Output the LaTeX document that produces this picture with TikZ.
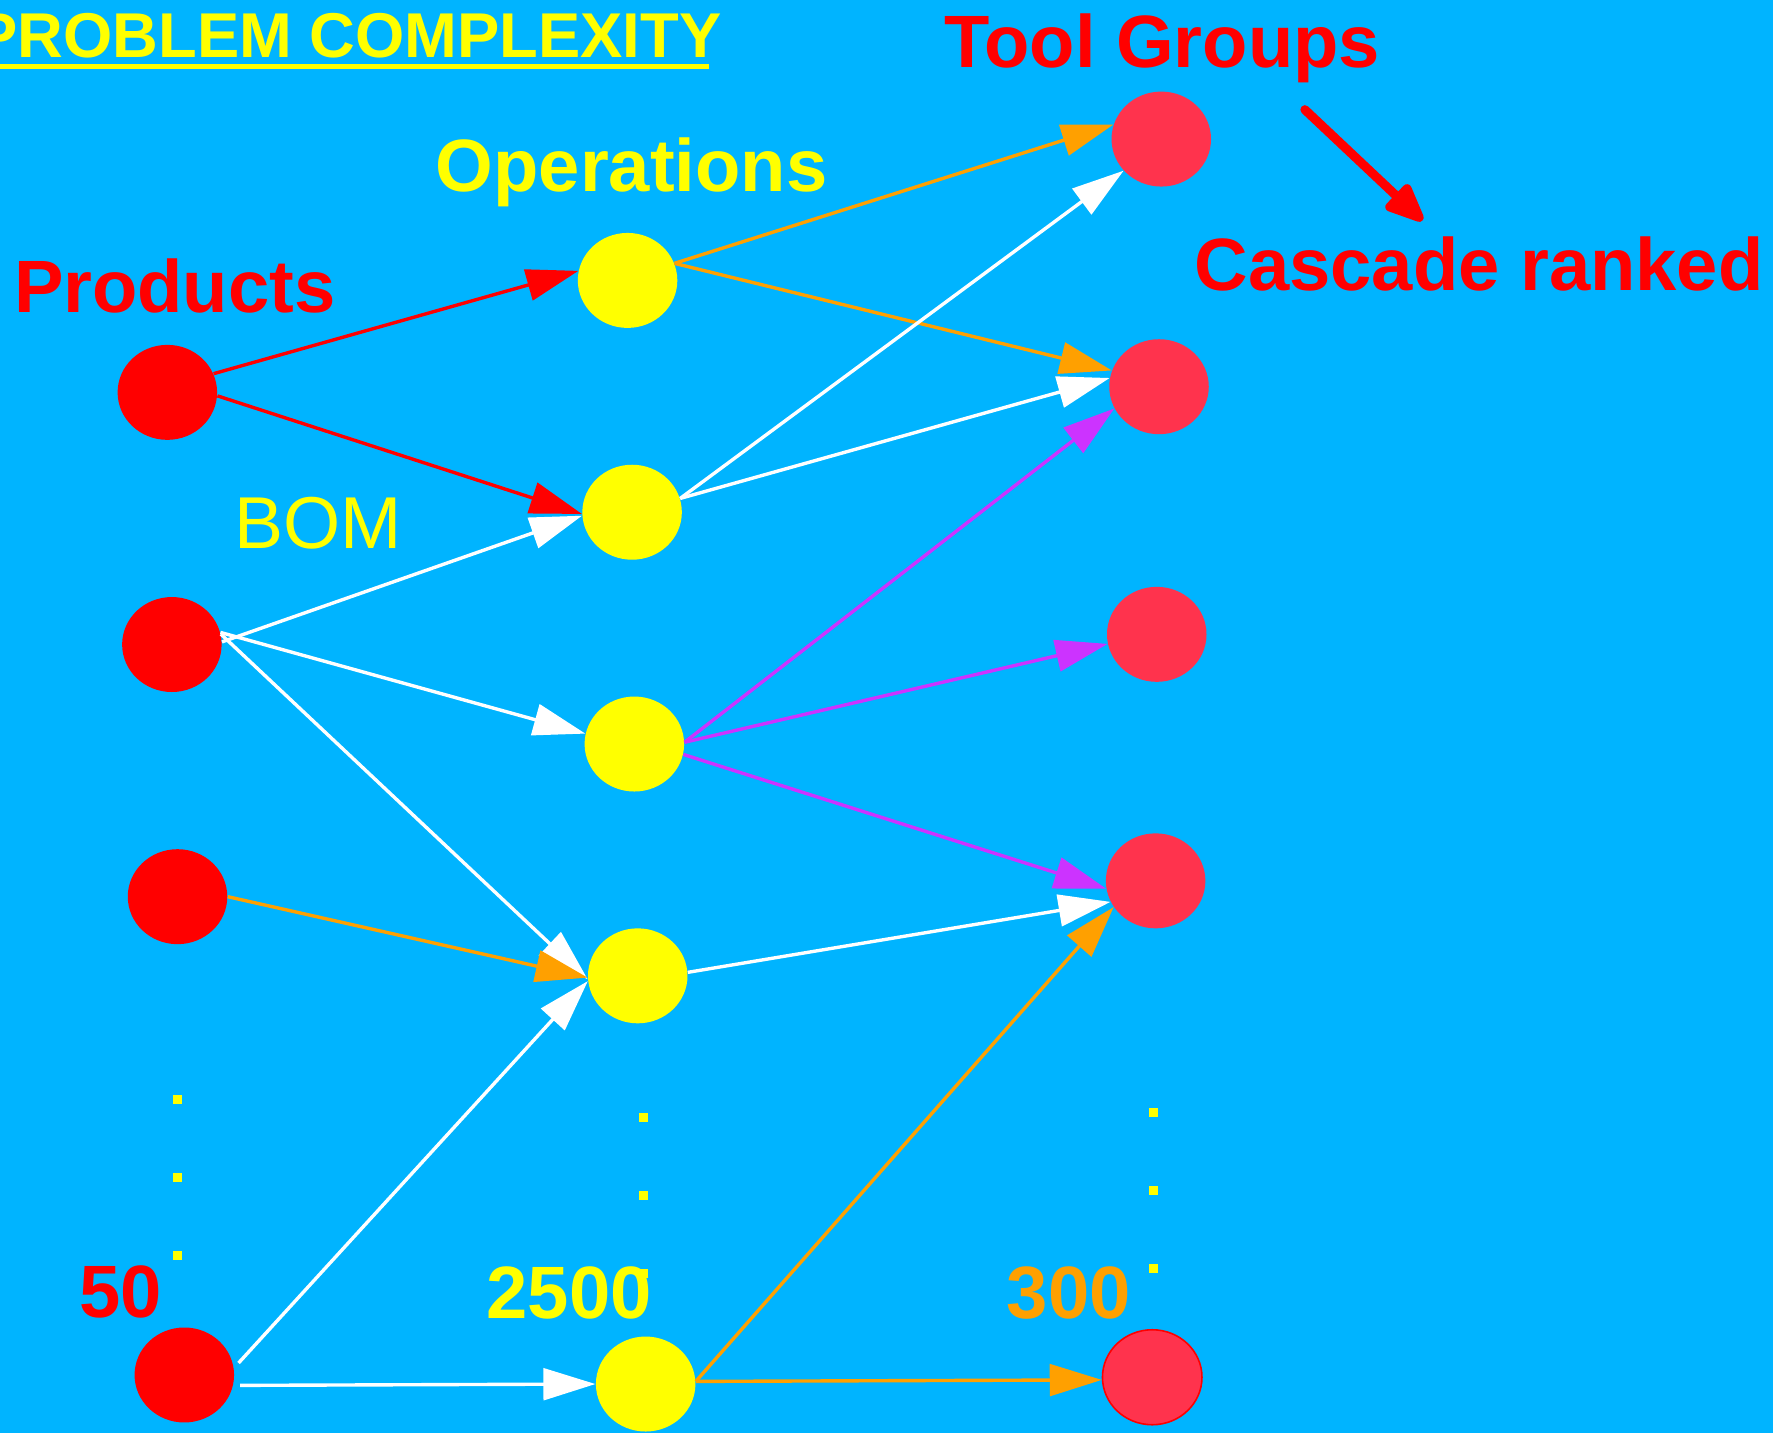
\documentclass[tikz,border=0pt]{standalone}
\usepackage{fontspec}
\setmainfont{Liberation Sans}
\usetikzlibrary{arrows.meta,shapes.geometric}
\definecolor{bgblue}{RGB}{0,180,255}
\definecolor{toolred}{RGB}{255,51,77}
\definecolor{orng}{RGB}{255,160,0}
\definecolor{purp}{RGB}{204,51,255}
\definecolor{yel}{RGB}{255,255,0}
\definecolor{rd}{RGB}{255,0,0}
\begin{document}
\begin{tikzpicture}[x=0.5pt,y=-0.5pt,
 blob/.style={ellipse, minimum width=44pt, minimum height=42pt, inner sep=0pt},
 prodnode/.style={blob, fill=rd},
 opnode/.style={blob, fill=yel},
 toolnode/.style={blob, fill=toolred},
 conn/.style={line width=1.5pt, -{Triangle[length=23pt,width=14pt]}},
 lbl/.style={font=\fontsize{32.8pt}{36pt}\selectfont\bfseries, anchor=base west, inner sep=0pt},
 dotmark/.style={fill=yel, minimum size=4pt, inner sep=0pt}
]
\fill[bgblue] (0,0) rectangle (1568,1267);
\useasboundingbox (0,0) rectangle (1568,1267);

% title
\node[font=\fontsize{28pt}{32pt}\selectfont\bfseries, text=yel, anchor=base west, inner sep=0pt] (title) at (-22,51) {PROBLEM COMPLEXITY};
\draw[yel, line width=2.2pt] (0,59) -- (627,59);

% labels
\node[lbl, text=rd] (lprod) at (12,276) {Products};
\node[lbl, text=yel] (lop) at (385,169) {Operations};
\node[lbl, text=rd] (ltool) at (835,60) {Tool Groups};
\node[lbl, text=rd] (lcasc) at (1056,257) {Cascade ranked};
\node[lbl, text=yel, font=\fontsize{32.5pt}{36pt}\selectfont] (lbom) at (207,485) {BOM};
\node[lbl, text=rd] (n50) at (70,1165) {50};
\node[lbl, text=yel] (n2500) at (430,1166) {2500};
\node[lbl, text=orng] (n300) at (890,1166) {300};

% dots
\foreach \i/\x/\y in {a/157/972, b/157/1041, c/157/1110,
                     d/569/988, e/569/1057, f/569/1126,
                     g/1020/984, h/1020/1053, k/1020/1122}
  \node[dotmark] (dot\i) at (\x,\y) {};

% products
\node[prodnode] (P1) at (148,347) {};
\node[prodnode] (P2) at (152,570) {};
\node[prodnode] (P3) at (157,793) {};
\node[prodnode] (P4) at (163,1216) {};
% operations
\node[opnode] (O1) at (555,248) {};
\node[opnode] (O2) at (559,453) {};
\node[opnode] (O3) at (561,658) {};
\node[opnode] (O4) at (564,863) {};
\node[opnode] (O5) at (571,1224) {};
% tool groups
\node[toolnode] (T1) at (1027,123) {};
\node[toolnode] (T2) at (1025,342) {};
\node[toolnode] (T3) at (1023,561) {};
\node[toolnode] (T4) at (1022,779) {};
\node[toolnode, draw=rd, line width=0.7pt] (T5) at (1019,1218) {};

% product -> operation
\draw[conn, rd] (P1.22) -- (O1.169);
\draw[conn, rd] (P1.356) -- (O2.182);
\draw[conn, white] (P2.3) -- (O2.184);
\draw[conn, white] (P2.14) -- (O3.168);
\draw[conn, white] (P2.12) -- (O4.184);
\draw[conn, orng] (P3.0) -- (O4.182);
\draw[conn, white, shorten <=3pt] (P4.8) -- (O4.186);
\draw[conn, white, shorten <=3pt] (P4.-12) -- (O5.180);

% operation -> tool group
\draw[conn, orng] (O1.20) -- (T1.163);
\draw[conn, orng] (O1.20) -- (T2.161);
\draw[conn, white] (O2.16) -- (T1.220);
\draw[conn, white] (O2.16) -- (T2.170);
\draw[conn, purp] (O3.2) -- (T2.206);
\draw[conn, purp] (O3.2) -- (T3.191);
\draw[conn, purp] (O3.-12) -- (T4.189);
\draw[conn, white] (O4.4) -- (T4.205);
\draw[conn, orng] (O5.3) -- (T4.212);
\draw[conn, orng] (O5.3) -- (T5.183);

% cascade arrow
\coordinate (cs) at (1154,97);
\coordinate (ce) at (1258,195);
\draw[rd, line width=4pt, line cap=round, -{Triangle[length=20pt,width=16pt,round]}] (cs) -- (ce);
\end{tikzpicture}
\end{document}
